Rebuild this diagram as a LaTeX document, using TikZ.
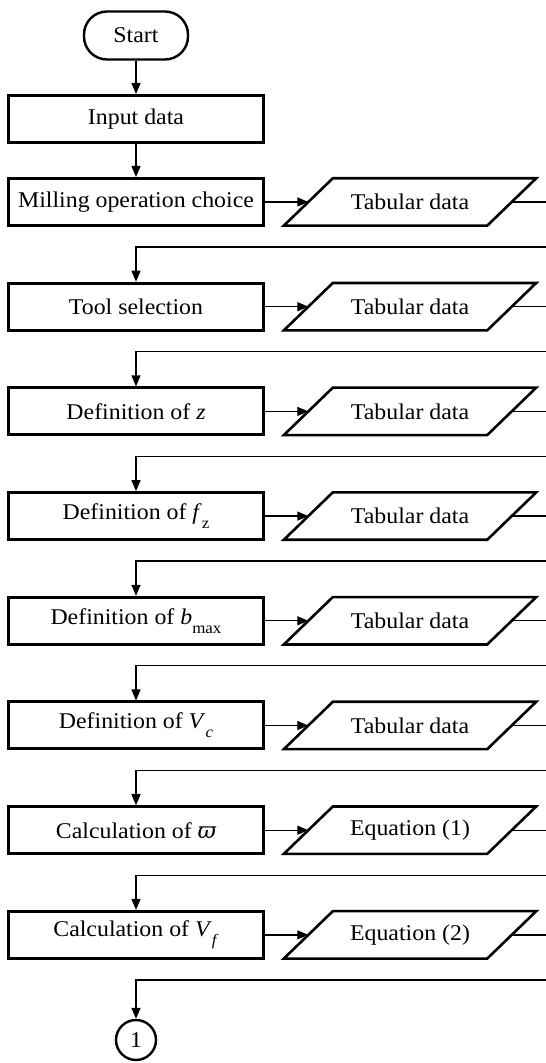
\documentclass[tikz,border=0pt]{standalone}
\usepackage{fontspec}
\setmainfont{Liberation Serif}[FakeStretch=1.06]
\newfontfamily\grkfont{DejaVu Serif}
\usetikzlibrary{arrows.meta,calc}

% lowered, smaller index text
\newcommand{\lowsub}[1]{\raisebox{-0.4em}{\fontsize{16}{16}\selectfont #1}}

\begin{document}
\begin{tikzpicture}[x=1pt,y=1pt,
  font=\fontsize{22.5}{26}\selectfont,
  procbox/.style={draw,line width=3pt,minimum width=255pt,minimum height=47pt,inner sep=0pt},
  termbox/.style={draw,line width=2.4pt,rounded corners=23pt,minimum width=104pt,minimum height=48pt,inner sep=0pt},
  ionode/.style={minimum width=252pt,minimum height=47pt,inner sep=0pt},
  iofr/.style={draw,line width=2.6pt,line join=miter},
  link/.style={line width=1.3pt},
  arr/.style={link,-{Triangle[length=11pt,width=9pt]}},
  connbox/.style={draw,circle,line width=2.4pt,minimum size=40pt,inner sep=0pt},
]
\fill[white] (0,0) rectangle (546,1063);
\useasboundingbox (0,0) rectangle (546,1063);

\node[termbox] (start) at (136,1027.5) {Start};
\node[procbox] (input) at (136,944) {Input data};

\foreach \i/\yy/\lab/\io in {
 1/861/{Milling operation choice}/{Tabular data},
 2/756.3/{Tool selection}/{Tabular data},
 3/651.6/{Definition of \textit{z}}/{Tabular data},
 4/546.9/{Definition of \textit{f}\lowsub{z}}/{Tabular data},
 5/442.2/{Definition of \textit{b}\lowsub{max}}/{Tabular data},
 6/337.5/{Definition of \textit{V}\lowsub{\textit{c}}}/{Tabular data},
 7/232.8/{Calculation of {\grkfont\itshape ϖ}}/{Equation (1)},
 8/128.1/{Calculation of \textit{V}\lowsub{\textit{f}}}/{Equation (2)}
}{
 \node[procbox] (p\i) at (136,\yy) {\lab};
 \node[ionode] (d\i) at (410,\yy) {\io};
 \draw[iofr] ($(d\i.north west)+(49,0)$) -- (d\i.north east)
   -- ($(d\i.south east)+(-49,0)$) -- (d\i.south west) -- cycle;
 \coordinate (in\i) at ($(d\i.west)+(24.5,0)$);
 \coordinate (out\i) at ($(d\i.east)+(-24.5,0)$);
 \coordinate (edge\i) at (546,\yy);
 \coordinate (back\i) at (546,\yy-45);
 \draw[arr] (p\i) -- (in\i);
 \draw[link] (out\i) -- (edge\i);
}

\node[connbox] (conn) at (136,23) {1};

\draw[arr] (start) -- (input);
\draw[arr] (input) -- (p1);
\foreach \i/\j in {1/2,2/3,3/4,4/5,5/6,6/7,7/8}{
 \draw[arr] (back\i) -| (p\j.north);
}
\draw[arr] (back8) -| (conn.north);
\end{tikzpicture}
\end{document}
